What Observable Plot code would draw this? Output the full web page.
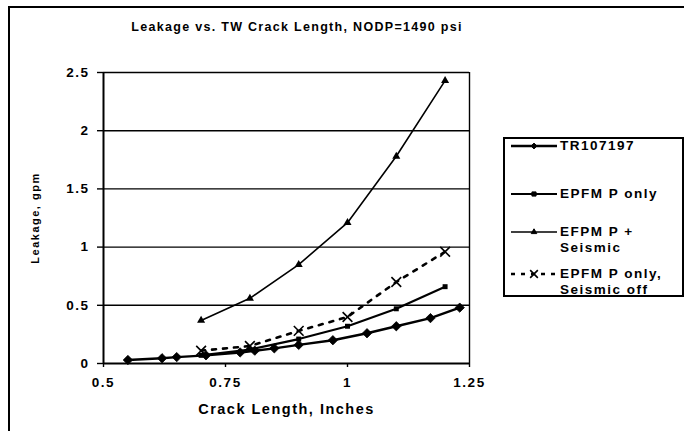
<!DOCTYPE html>
<html>
<head>
<meta charset="utf-8">
<script src="https://cdn.jsdelivr.net/npm/d3@7"></script>
<script src="https://cdn.jsdelivr.net/npm/@observablehq/plot@0.6"></script>
<style>
  html, body { margin: 0; padding: 0; background: #fff; }
  #wrap { position: relative; width: 684px; height: 431px; overflow: hidden; font-family: "Liberation Sans", Arial, sans-serif; font-weight: bold; color: #000; }
  #border { position: absolute; left: 8px; top: 6px; width: 700px; height: 460px; border: 2px solid #000; box-sizing: border-box; }
  #title { position: absolute; left: 10px; width: 574px; top: 20px; text-align: center; font-size: 12.5px; letter-spacing: 1.3px; }
  #chart { position: absolute; left: 0; top: 0; }
  #legend { position: absolute; left: 503px; top: 137px; width: 181px; height: 160px; border: 2px solid #000; box-sizing: border-box; background: #fff; }
  .item { position: absolute; left: 4px; display: flex; align-items: flex-start; }
  .item svg { flex: none; }
  .item span { font-size: 13.5px; letter-spacing: 1.5px; line-height: 16px; margin-left: 1px; white-space: nowrap; }
</style>
</head>
<body>
<div id="wrap">
  <div id="border"></div>
  <div id="chart"></div>
  <div id="title">Leakage vs. TW Crack Length, NODP=1490 psi</div>
  <div id="legend"></div>
</div>
<script>
// Data
const trX = [0.55, 0.62, 0.65, 0.71, 0.78, 0.81, 0.85, 0.90, 0.97, 1.04, 1.10, 1.17, 1.23];
const trY = [0.03, 0.045, 0.055, 0.07, 0.095, 0.11, 0.13, 0.16, 0.20, 0.26, 0.32, 0.39, 0.48];

const pOnlyX = [0.7, 0.8, 0.9, 1.0, 1.1, 1.2];
const pOnlyY = [0.07, 0.12, 0.21, 0.32, 0.47, 0.66];

const seisX = [0.7, 0.8, 0.9, 1.0, 1.1, 1.2];
const seisY = [0.37, 0.56, 0.85, 1.21, 1.78, 2.43];

const offX = [0.7, 0.8, 0.9, 1.0, 1.1, 1.2];
const offY = [0.11, 0.15, 0.28, 0.40, 0.70, 0.96];

const xTicks = [0.5, 0.75, 1, 1.25];
const yTicks = [0, 0.5, 1, 1.5, 2, 2.5];
const seriesNames = ["TR107197", "EPFM  P only", "EFPM P +\nSeismic", "EPFM P only,\nSeismic off"];

const toRows = (xs, ys) => xs.map((x, i) => ({x, y: ys[i]}));
const tr = toRows(trX, trY);
const po = toRows(pOnlyX, pOnlyY);
const se = toRows(seisX, seisY);
const of = toRows(offX, offY);

const chart = Plot.plot({
  width: 684,
  height: 431,
  marginLeft: 103,
  marginRight: 215,
  marginTop: 72,
  marginBottom: 68,
  style: { fontFamily: "Liberation Sans, Arial, sans-serif", fontWeight: "bold", fontSize: "12px", letterSpacing: "1.5px", color: "#000", background: "transparent", overflow: "visible" },
  x: { domain: [0.5, 1.25] },
  y: { domain: [0, 2.5] },
  marks: [
    Plot.ruleY(yTicks.filter(d => d > 0), { stroke: "#000", strokeWidth: 1.4 }),
    Plot.ruleX([1.25], { stroke: "#000", strokeWidth: 1.4 }),
    Plot.ruleX([0.5], { stroke: "#000", strokeWidth: 2 }),
    Plot.ruleY([0], { stroke: "#000", strokeWidth: 2 }),
    Plot.axisY({ ticks: yTicks, tickSize: 6, tickPadding: 8, tickFormat: d => String(d), label: null, strokeWidth: 1.4, fontSize: 13.5 }),
    Plot.axisX({ ticks: xTicks, tickSize: 4, tickPadding: 10, tickFormat: d => String(d), label: null, strokeWidth: 1.4, fontSize: 13.5 }),
    Plot.axisY({ ticks: [], label: "Leakage, gpm", labelAnchor: "center", labelArrow: "none", labelOffset: 72, fontSize: 11, tickSize: 0 }),
    Plot.axisX({ ticks: [], label: "Crack Length, Inches", labelAnchor: "center", labelArrow: "none", labelOffset: 50, fontSize: 14.5, tickSize: 0 }),
    // Seismic
    Plot.line(se, { x: "x", y: "y", stroke: "#000", strokeWidth: 1.6 }),
    Plot.dot(se, { x: "x", y: "y", symbol: "triangle", r: 3, fill: "#000" }),
    // Seismic off
    Plot.line(of, { x: "x", y: "y", stroke: "#000", strokeWidth: 2.6, strokeDasharray: "4 7" }),
    Plot.dot(of, { x: "x", y: "y", symbol: "times", r: 4.5, stroke: "#000", strokeWidth: 1.6 }),
    // P only
    Plot.line(po, { x: "x", y: "y", stroke: "#000", strokeWidth: 2.2 }),
    Plot.dot(po, { x: "x", y: "y", symbol: "square", r: 2.8, fill: "#000" }),
    // TR107197
    Plot.line(tr, { x: "x", y: "y", stroke: "#000", strokeWidth: 2.4 }),
    Plot.dot(tr, { x: "x", y: "y", symbol: "diamond2", r: 4.2, fill: "#000", stroke: "#000", strokeWidth: 0.8 })
  ]
});
document.getElementById("chart").appendChild(chart);

// Legend
const legendDefs = [
  { top: -1, width: 2.4, dash: null, sym: "diamond" },
  { top: 47, width: 2.2, dash: null, sym: "square" },
  { top: 85, width: 1.6, dash: null, sym: "triangle" },
  { top: 127, width: 2.6, dash: "4 6", sym: "times" }
];
const legend = document.getElementById("legend");
legendDefs.forEach((d, i) => {
  const item = document.createElement("div");
  item.className = "item";
  item.style.top = d.top + "px";
  const s = d3.create("svg").attr("width", 50).attr("height", 16);
  s.append("line").attr("x1", 2).attr("x2", 48).attr("y1", 8).attr("y2", 8)
    .attr("stroke", "#000").attr("stroke-width", d.width).attr("stroke-dasharray", d.dash);
  s.append("path").attr("transform", "translate(25,8)")
    .attr("d", d3.symbol(d.sym === "diamond" ? d3.symbolDiamond2 : d.sym === "square" ? d3.symbolSquare2 : d.sym === "triangle" ? d3.symbolTriangle2 : d3.symbolTimes, d.sym === "times" ? 40 : 22)())
    .attr("fill", d.sym === "times" ? "none" : "#000").attr("stroke", "#000").attr("stroke-width", d.sym === "times" ? 1.6 : 1);
  item.appendChild(s.node());
  const t = document.createElement("span");
  t.innerHTML = seriesNames[i].replace("\n", "<br>");
  item.appendChild(t);
  legend.appendChild(item);
});
</script>
</body>
</html>
